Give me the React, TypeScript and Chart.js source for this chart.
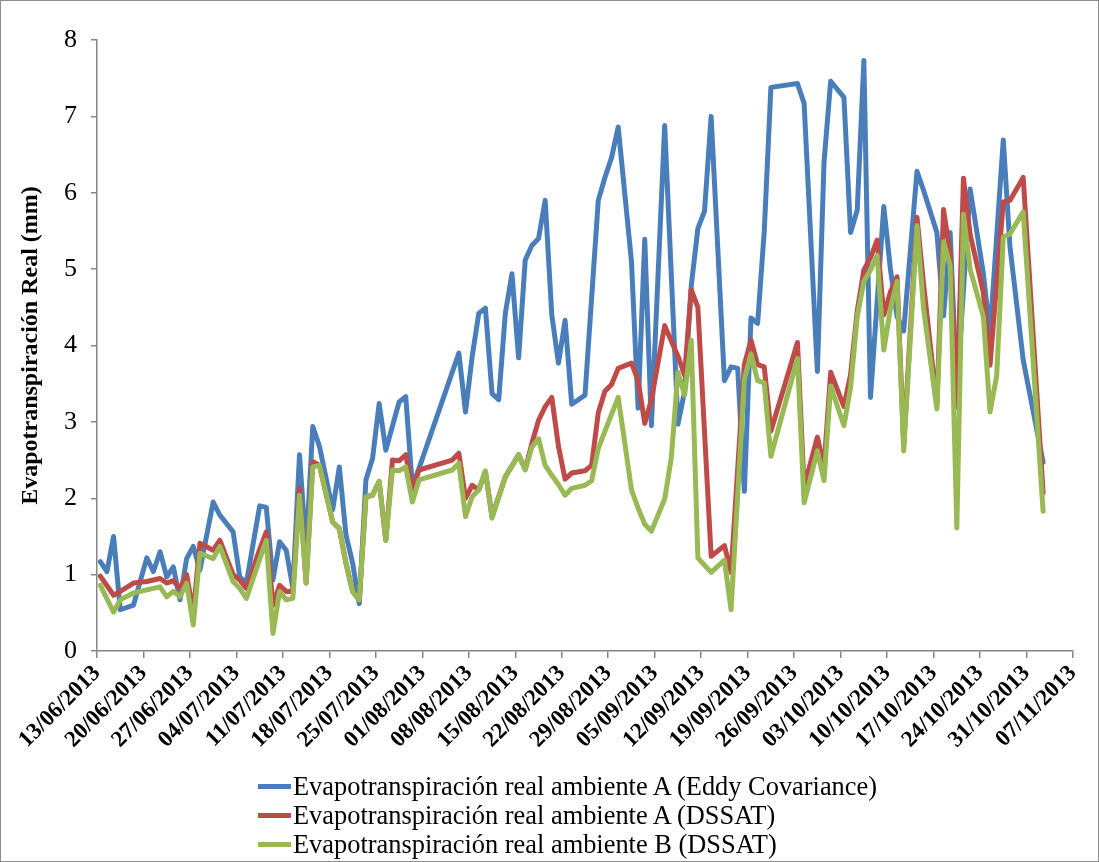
import React, { useEffect, useRef } from "react";
import { Chart, registerables } from "chart.js";

Chart.register(...registerables);

// X-axis tick labels (one every 7 days, starting 13/06/2013)
const tickLabels = [
  "13/06/2013", "20/06/2013", "27/06/2013", "04/07/2013", "11/07/2013", "18/07/2013",
  "25/07/2013", "01/08/2013", "08/08/2013", "15/08/2013", "22/08/2013", "29/08/2013",
  "05/09/2013", "12/09/2013", "19/09/2013", "26/09/2013", "03/10/2013", "10/10/2013",
  "17/10/2013", "24/10/2013", "31/10/2013", "07/11/2013",
];

const seriesNames = [
  "Evapotranspiración real ambiente A (Eddy Covariance)",
  "Evapotranspiración real ambiente A (DSSAT)",
  "Evapotranspiración real ambiente B (DSSAT)",
];

// Days since 13/06/2013
const eddyDays = [
  0, 1, 2, 3, 5, 7, 8, 9, 10, 11, 12, 13, 14, 15, 17, 18, 20, 21, 22, 24, 25, 26, 27, 28, 29,
  30, 31, 32, 33, 35, 36, 37, 38, 39, 40, 41, 42, 43, 45, 46, 47, 48, 54, 55, 56, 57, 58, 59,
  60, 61, 62, 63, 64, 65, 66, 67, 68, 69, 70, 71, 73, 75, 76, 77, 78, 80, 81, 82, 83, 85, 87,
  88, 89, 90, 91, 92, 94, 95, 96, 97, 98, 99, 100, 101, 105, 106, 108, 109, 110, 112, 113,
  114, 115, 116, 118, 119, 120, 121, 123, 124, 126, 127, 128, 129, 131, 133, 134, 136, 137,
  139, 142,
];
const eddyValues = [
  1.17, 1.04, 1.5, 0.54, 0.6, 1.22, 1.04, 1.3, 0.97, 1.1, 0.67, 1.21, 1.37, 1.06, 1.95, 1.78,
  1.56, 0.97, 0.89, 1.9, 1.88, 0.93, 1.43, 1.32, 0.82, 2.57, 1.32, 2.94, 2.68, 1.85, 2.41,
  1.52, 1.15, 0.62, 2.24, 2.52, 3.24, 2.63, 3.26, 3.33, 2.15, 2.39, 3.9, 3.13, 3.85, 4.42,
  4.49, 3.37, 3.29, 4.42, 4.94, 3.84, 5.12, 5.31, 5.4, 5.9, 4.4, 3.77, 4.33, 3.23, 3.35, 5.9,
  6.2, 6.46, 6.86, 5.1, 3.18, 5.39, 2.95, 6.88, 2.97, 3.4, 4.78, 5.53, 5.76, 7.0, 3.54, 3.72,
  3.7, 2.09, 4.36, 4.29, 5.5, 7.38, 7.43, 7.17, 3.66, 6.4, 7.46, 7.25, 5.48, 5.77, 7.73, 3.32,
  5.82, 5.0, 4.38, 4.19, 6.28, 6.03, 5.48, 4.39, 5.48, 3.4, 6.05, 4.94, 4.16, 6.69, 5.3, 3.81,
  2.47,
];

const dssatADays = [
  0, 2, 3, 5, 7, 9, 10, 11, 12, 13, 14, 15, 17, 18, 20, 21, 22, 24, 25, 26, 27, 28, 29, 30, 31,
  32, 33, 35, 36, 37, 38, 39, 40, 41, 42, 43, 44, 45, 46, 47, 48, 53, 54, 55, 56, 57, 58, 59,
  61, 63, 64, 65, 66, 67, 68, 69, 70, 71, 73, 74, 75, 76, 77, 78, 80, 81, 82, 83, 85, 87, 88,
  89, 90, 92, 94, 95, 97, 98, 99, 100, 101, 105, 106, 108, 109, 110, 112, 113, 114, 115, 116,
  117, 118, 119, 120, 121, 123, 124, 126, 127, 128, 129, 130, 131, 133, 134, 136, 137, 139,
  142,
];
const dssatAValues = [
  0.98, 0.73, 0.78, 0.89, 0.91, 0.95, 0.89, 0.92, 0.82, 1.0, 0.5, 1.41, 1.32, 1.45, 1.0, 0.93,
  0.82, 1.33, 1.56, 0.6, 0.86, 0.78, 0.78, 2.13, 0.89, 2.48, 2.43, 1.69, 1.6, 1.15, 0.78, 0.67,
  2.02, 2.04, 2.22, 1.45, 2.5, 2.49, 2.57, 2.11, 2.37, 2.5, 2.59, 2.0, 2.17, 2.11, 2.35, 1.76,
  2.28, 2.57, 2.38, 2.72, 3.02, 3.2, 3.32, 2.68, 2.25, 2.33, 2.36, 2.43, 3.12, 3.4, 3.49, 3.7,
  3.77, 3.54, 2.98, 3.29, 4.26, 3.86, 3.61, 4.73, 4.5, 1.24, 1.38, 1.03, 3.75, 4.07, 3.75, 3.72,
  2.88, 4.04, 2.15, 2.8, 2.41, 3.65, 3.2, 3.62, 4.45, 4.99, 5.15, 5.38, 4.4, 4.7, 4.9, 2.7,
  5.68, 4.8, 3.22, 5.78, 5.2, 3.19, 6.19, 5.46, 4.69, 3.74, 5.88, 5.9, 6.2, 2.07,
];

const dssatBDays = [
  0, 2, 3, 5, 7, 9, 10, 11, 12, 13, 14, 15, 17, 18, 20, 21, 22, 24, 25, 26, 27, 28, 29, 30, 31,
  32, 33, 35, 36, 37, 38, 39, 40, 41, 42, 43, 44, 45, 46, 47, 48, 53, 54, 55, 56, 57, 58, 59,
  61, 63, 64, 65, 66, 67, 68, 69, 70, 71, 73, 74, 75, 76, 78, 79, 80, 81, 82, 83, 85, 86, 87,
  88, 89, 90, 92, 94, 95, 97, 98, 99, 100, 101, 105, 106, 108, 109, 110, 112, 113, 114, 115,
  116, 117, 118, 119, 120, 121, 123, 124, 126, 127, 128, 129, 130, 131, 133, 134, 135, 136,
  137, 139, 142,
];
const dssatBValues = [
  0.86, 0.51, 0.67, 0.76, 0.8, 0.84, 0.71, 0.78, 0.71, 0.89, 0.34, 1.28, 1.21, 1.37, 0.91, 0.82,
  0.69, 1.2, 1.45, 0.23, 0.78, 0.67, 0.69, 2.04, 0.89, 2.41, 2.43, 1.69, 1.6, 1.15, 0.78, 0.67,
  2.02, 2.04, 2.22, 1.45, 2.37, 2.36, 2.41, 1.95, 2.24, 2.37, 2.46, 1.76, 2.02, 2.11, 2.36, 1.74,
  2.28, 2.57, 2.37, 2.67, 2.78, 2.43, 2.3, 2.18, 2.04, 2.13, 2.17, 2.23, 2.65, 2.88, 3.32, 2.72,
  2.11, 1.87, 1.66, 1.57, 1.99, 2.53, 3.65, 3.35, 4.07, 1.22, 1.03, 1.19, 0.54, 3.56, 3.89, 3.54,
  3.51, 2.55, 3.83, 1.94, 2.62, 2.23, 3.47, 2.95, 3.45, 4.38, 4.84, 4.99, 5.18, 3.94, 4.48, 4.84,
  2.62, 5.57, 4.48, 3.17, 5.36, 5.05, 1.61, 5.72, 5.0, 4.38, 3.13, 3.6, 5.42, 5.46, 5.75, 1.83,
];

const seriesColors = ["#4A7EBB", "#BE4B48", "#98B954"];

// Excel date axis places each daily value in the middle of its day
const DAY_CENTER = 0.5;

const toPoints = (days: number[], values: number[]) =>
  days.map((d, i) => ({ x: d + DAY_CENTER, y: values[i] }));

const SERIF = '"Liberation Serif", "Times New Roman", serif';
const AXIS_GRAY = "#868686";

export default function App() {
  const canvasRef = useRef<HTMLCanvasElement | null>(null);

  useEffect(() => {
    document.body.style.margin = "0";
    const canvas = canvasRef.current;
    if (!canvas) return;
    const allDays = [eddyDays, dssatADays, dssatBDays];
    const allValues = [eddyValues, dssatAValues, dssatBValues];
    const chart = new Chart(canvas, {
      type: "line",
      data: {
        datasets: seriesNames.map((name, i) => ({
          label: name,
          data: toPoints(allDays[i], allValues[i]),
          borderColor: seriesColors[i],
          backgroundColor: seriesColors[i],
          borderWidth: 5,
          pointRadius: 0,
          tension: 0,
          fill: false,
          borderJoinStyle: "round" as const,
          borderCapStyle: "round" as const,
          order: 2 - i,
        })),
      },
      options: {
        animation: false,
        responsive: false,
        events: [],
        layout: { padding: { left: 0, right: 26, top: 40, bottom: 0 } },
        plugins: {
          legend: { display: false },
          tooltip: { enabled: false },
        },
        scales: {
          x: {
            type: "linear",
            min: 0,
            max: 147,
            afterFit: (scale: any) => {
              scale.height = 211;
            },
            ticks: {
              stepSize: 7,
              autoSkip: false,
              maxRotation: 45,
              minRotation: 45,
              padding: 2,
              color: "#000",
              font: { family: SERIF, size: 23, weight: "bold" },
              callback: (value: any) => tickLabels[Math.round(Number(value) / 7)] ?? "",
            },
            grid: {
              display: true,
              drawOnChartArea: false,
              drawTicks: true,
              tickLength: 7,
              color: AXIS_GRAY,
              lineWidth: 1.5,
            },
            border: { display: true, color: AXIS_GRAY, width: 1.5 },
          },
          y: {
            min: 0,
            max: 8,
            afterFit: (scale: any) => {
              scale.width = 97;
            },
            ticks: {
              stepSize: 1,
              padding: 14,
              color: "#000",
              font: { family: SERIF, size: 26 },
            },
            title: {
              display: true,
              text: "Evapotranspiración Real (mm)",
              color: "#000",
              font: { family: SERIF, size: 24, weight: "bold" },
              padding: { top: 16, bottom: 0 },
            },
            grid: {
              display: true,
              drawOnChartArea: false,
              drawTicks: true,
              tickLength: 6,
              color: AXIS_GRAY,
              lineWidth: 1.5,
            },
            border: { display: true, color: AXIS_GRAY, width: 1.5 },
          },
        },
      },
    });
    return () => chart.destroy();
  }, []);

  return (
    <div style={{ position: "relative", width: 1099, height: 862, background: "#fff" }}>
      <canvas ref={canvasRef} width={1099} height={862} style={{ display: "block" }} />
      <div
        style={{
          position: "absolute",
          left: 258,
          top: 772,
          fontFamily: SERIF,
          fontSize: 26.4,
          lineHeight: "29px",
          color: "#000",
        }}
      >
        {seriesNames.map((name, i) => (
          <div key={name} style={{ display: "flex", alignItems: "center", whiteSpace: "nowrap" }}>
            <span
              style={{
                display: "inline-block",
                width: 33,
                height: 5,
                background: seriesColors[i],
                marginRight: 2,
              }}
            />
            <span>{name}</span>
          </div>
        ))}
      </div>
      <div
        style={{
          position: "absolute",
          inset: 0,
          border: "1px solid #8c8c8c",
          pointerEvents: "none",
        }}
      />
    </div>
  );
}
